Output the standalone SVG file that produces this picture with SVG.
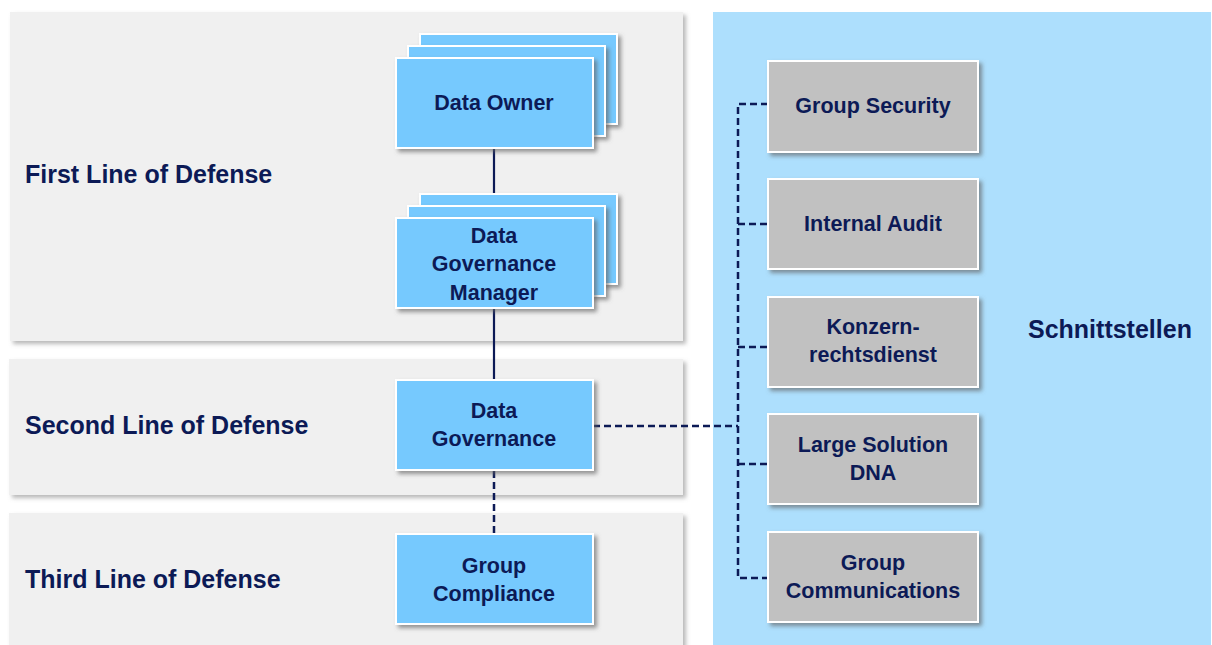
<svg xmlns="http://www.w3.org/2000/svg" width="1212" height="645" viewBox="0 0 1212 645">
  <defs>
    <filter id="shadow" x="-10%" y="-10%" width="125%" height="130%">
      <feDropShadow dx="3" dy="3" stdDeviation="2" flood-color="#5e5e5e" flood-opacity="0.65"/>
    </filter>
    <filter id="panelShadow" x="-5%" y="-5%" width="110%" height="115%">
      <feDropShadow dx="3" dy="3" stdDeviation="2" flood-color="#8a8a8a" flood-opacity="0.6"/>
    </filter>
  </defs>
  <style>
    .panel { fill: #f0f0f0; filter: url(#panelShadow); }
    .zone { fill: #addffd; }
    .blue { fill: #76c9fe; stroke: #ffffff; stroke-width: 2; filter: url(#shadow); }
    .grey { fill: #c1c1c1; stroke: #ffffff; stroke-width: 2; filter: url(#shadow); }
    .label { font-family: "Liberation Sans", Arial, sans-serif; font-weight: bold; font-size: 25px; fill: #0c1a56; }
    .txt { font-family: "Liberation Sans", Arial, sans-serif; font-weight: bold; font-size: 21.5px; fill: #0c1a56; text-anchor: middle; }
    .solid { stroke: #0c1a56; stroke-width: 2.2; fill: none; }
    .dash { stroke: #0c1a56; stroke-width: 2.5; fill: none; stroke-dasharray: 7 4; }
  </style>

  <!-- background areas -->
  <g id="areas">
    <rect class="panel" x="10" y="12" width="673" height="329"/>
    <rect class="panel" x="9" y="359" width="674" height="136"/>
    <rect class="panel" x="9" y="513" width="674" height="140"/>
    <rect class="zone" x="713" y="12" width="498" height="640"/>
    <text class="label" x="25" y="183">First Line of Defense</text>
    <text class="label" x="25" y="434">Second Line of Defense</text>
    <text class="label" x="25" y="588">Third Line of Defense</text>
    <text class="label" x="1028" y="338">Schnittstellen</text>
  </g>

  <!-- connectors -->
  <g id="connectors">
    <line class="solid" x1="494" y1="148" x2="494" y2="218"/>
    <line class="solid" x1="494" y1="308" x2="494" y2="380"/>
    <line class="dash" x1="494" y1="471" x2="494" y2="534"/>
    <line class="dash" x1="593" y1="426" x2="738" y2="426"/>
    <path class="dash" d="M768 104 H738 V578 H768"/>
    <line class="dash" x1="738" y1="224" x2="768" y2="224"/>
    <line class="dash" x1="738" y1="347" x2="768" y2="347"/>
    <line class="dash" x1="738" y1="464" x2="768" y2="464"/>
  </g>

  <g id="data-owner">
    <rect class="blue" x="420" y="34" width="197" height="90"/>
    <rect class="blue" x="408" y="46" width="197" height="90"/>
    <rect class="blue" x="396" y="58" width="197" height="90"/>
    <text class="txt" x="494" y="110">Data Owner</text>
  </g>

  <g id="dg-manager">
    <rect class="blue" x="420" y="194" width="197" height="90"/>
    <rect class="blue" x="408" y="206" width="197" height="90"/>
    <rect class="blue" x="396" y="218" width="197" height="90"/>
    <text class="txt" x="494" y="243">Data</text>
    <text class="txt" x="494" y="271">Governance</text>
    <text class="txt" x="494" y="300">Manager</text>
  </g>

  <g id="data-governance">
    <rect class="blue" x="396" y="380" width="197" height="90"/>
    <text class="txt" x="494" y="418">Data</text>
    <text class="txt" x="494" y="446">Governance</text>
  </g>

  <g id="group-compliance">
    <rect class="blue" x="396" y="534" width="197" height="90"/>
    <text class="txt" x="494" y="573">Group</text>
    <text class="txt" x="494" y="601">Compliance</text>
  </g>

  <g id="group-security">
    <rect class="grey" x="768" y="61" width="210" height="91"/>
    <text class="txt" x="873" y="113">Group Security</text>
  </g>

  <g id="internal-audit">
    <rect class="grey" x="768" y="179" width="210" height="90"/>
    <text class="txt" x="873" y="231">Internal Audit</text>
  </g>

  <g id="konzernrechtsdienst">
    <rect class="grey" x="768" y="297" width="210" height="90"/>
    <text class="txt" x="873" y="334">Konzern-</text>
    <text class="txt" x="873" y="362">rechtsdienst</text>
  </g>

  <g id="large-solution-dna">
    <rect class="grey" x="768" y="414" width="210" height="90"/>
    <text class="txt" x="873" y="452">Large Solution</text>
    <text class="txt" x="873" y="480">DNA</text>
  </g>

  <g id="group-communications">
    <rect class="grey" x="768" y="532" width="210" height="90"/>
    <text class="txt" x="873" y="570">Group</text>
    <text class="txt" x="873" y="598">Communications</text>
  </g>
</svg>
